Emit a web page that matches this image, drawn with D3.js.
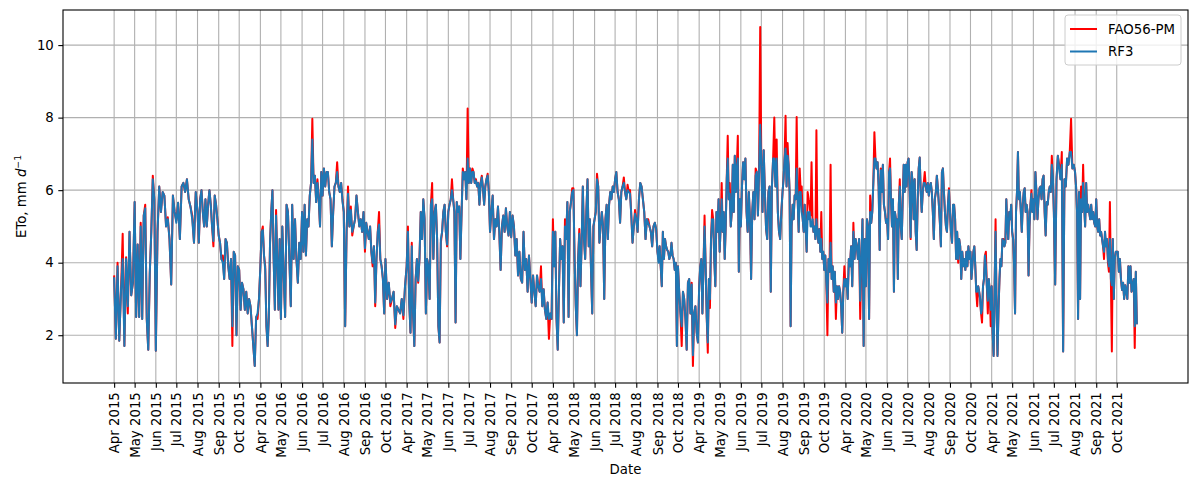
<!DOCTYPE html>
<html>
<head>
<meta charset="utf-8">
<script src="https://cdn.jsdelivr.net/npm/d3@7"></script>
<style>
  body { margin: 0; background: #ffffff; }
  svg { display: block; font-family: "DejaVu Sans", sans-serif; }
</style>
</head>
<body>
<svg id="chart" width="1189" height="481"></svg>
<script>
// Growing seasons (April to October) of daily reference evapotranspiration, mm/day.
const seasons = [2015, 2016, 2017, 2018, 2019, 2020, 2021];
const monthNames = ["Apr", "May", "Jun", "Jul", "Aug", "Sep", "Oct"];
const monthDays = [30, 31, 30, 31, 31, 30, 31];
const seriesNames = ["FAO56-PM", "RF3"];
const yTickValues = [2, 4, 6, 8, 10];

// Each season: one list per month, readings spread evenly across that month.
const fao2015 = [
  [3.65, 1.9, 4.0, 1.85, 3.2, 4.8, 1.7, 4.15, 2.6, 4.85, 3.1, 3.45],
  [5.67, 2.5, 4.5, 2.5, 5.1, 2.45, 5.3, 5.6, 2.45, 1.6, 3.7, 4.85, 6.4, 5.75],
  [1.57, 4.85, 6.1, 5.4, 5.95, 5.85, 5.0, 5.25, 4.65, 3.4, 5.85, 5.4],
  [5.15, 5.65, 4.65, 6.1, 6.2, 5.95, 6.3, 5.75, 5.55, 5.3, 4.55, 5.95],
  [5.4, 4.55, 5.75, 6.0, 5.4, 5.0, 5.75, 5.0, 5.6, 6.0, 5.6, 5.0, 4.45, 5.85, 5.6, 5.2],
  [4.75, 4.55, 4.1, 4.2, 3.55, 4.65, 4.55, 3.9, 3.55, 4.1, 1.7, 4.3, 4.2, 2.0, 3.9],
  [3.8, 2.7, 3.45, 3.27, 2.7, 3.2, 2.6, 3.0, 2.8, 2.25, 1.7, 1.15, 2.5, 2.45, 3.0]
];
const rf3_2015 = [
  [3.6, 1.9, 3.9, 1.85, 3.2, 4.1, 1.7, 4.1, 2.8, 4.85, 3.1, 3.45],
  [5.67, 2.5, 4.5, 2.5, 5.0, 2.45, 5.3, 5.5, 2.45, 1.6, 3.7, 4.85, 6.3, 5.75],
  [1.57, 4.85, 6.1, 5.4, 5.95, 5.85, 5.0, 5.2, 4.65, 3.4, 5.85, 5.4],
  [5.1, 5.65, 4.65, 6.1, 6.2, 5.95, 6.3, 5.75, 5.55, 5.2, 4.55, 5.95],
  [5.4, 4.55, 5.75, 6.0, 5.4, 5.0, 5.75, 5.0, 5.6, 6.0, 5.6, 5.0, 4.6, 5.85, 5.6, 5.2],
  [4.75, 4.55, 4.1, 4.0, 3.55, 4.65, 4.55, 3.9, 3.55, 4.1, 2.25, 4.3, 4.2, 2.0, 3.9],
  [3.8, 2.7, 3.45, 3.27, 2.7, 3.2, 2.6, 3.0, 2.8, 2.25, 1.7, 1.15, 2.5, 2.6, 3.0]
];

const fao2016 = [
  [3.9, 4.85, 5.0, 4.2, 3.9, 2.25, 1.7, 2.5, 4.55, 5.4, 6.0, 4.1, 2.7, 5.45, 4.1, 2.7, 4.65],
  [2.45, 5.0, 3.65, 2.5, 5.6, 5.4, 4.1, 2.8, 5.6, 4.1, 5.2, 4.1, 3.45, 4.55, 4.1],
  [5.4, 4.3, 5.6, 4.2, 5.2, 5.0, 5.85, 6.2, 7.97, 6.2, 6.4, 5.67, 6.3, 5.75, 5.0, 6.5],
  [5.85, 6.6, 6.1, 6.5, 6.5, 5.95, 5.75, 4.45, 5.4, 6.1, 6.2, 6.77, 6.1, 5.95, 6.2, 5.75],
  [5.4, 2.25, 4.85, 6.1, 5.0, 5.55, 4.75, 5.0, 5.2, 5.85, 5.4, 5.0, 5.2, 4.85, 5.4],
  [4.3, 5.1, 4.85, 4.65, 5.0, 4.3, 3.9, 4.45, 2.8, 4.1, 4.85, 5.4, 4.1, 3.9, 3.55, 2.6],
  [4.1, 3.0, 3.45, 2.8, 3.0, 3.2, 2.2, 2.8, 2.7, 2.6, 3.0, 2.45, 3.35]
];
const rf3_2016 = [
  [3.9, 4.85, 4.9, 4.2, 3.8, 2.25, 1.7, 2.5, 4.55, 5.4, 6.0, 4.1, 2.7, 5.3, 4.1, 2.7, 4.65],
  [2.45, 5.0, 3.65, 2.5, 5.6, 5.4, 4.1, 2.8, 5.6, 4.1, 5.2, 4.1, 3.45, 4.55, 4.1],
  [5.4, 4.3, 5.6, 4.2, 5.2, 5.0, 5.85, 6.2, 7.4, 6.2, 6.4, 5.67, 6.2, 5.75, 5.0, 6.5],
  [5.85, 6.6, 6.1, 6.5, 6.5, 5.95, 5.75, 4.45, 5.4, 6.1, 6.2, 6.5, 6.1, 5.95, 6.2, 5.7],
  [5.4, 2.25, 4.85, 5.9, 5.0, 5.45, 4.85, 5.0, 5.2, 5.85, 5.4, 5.0, 5.2, 4.85, 5.4],
  [4.4, 5.1, 4.85, 4.65, 5.0, 4.3, 4.0, 4.45, 2.9, 4.1, 4.85, 5.05, 4.1, 3.9, 3.55, 2.6],
  [4.1, 3.0, 3.45, 2.9, 3.0, 3.2, 2.3, 2.8, 2.7, 2.6, 3.0, 2.55, 3.35]
];

const fao2017 = [
  [3.9, 5.0, 2.9, 2.07, 4.55, 2.6, 1.7, 3.55, 4.1, 3.45, 4.1, 5.4, 4.65, 5.75, 5.2, 2.6],
  [4.1, 3.9, 3.0, 5.6, 6.2, 4.1, 5.4, 5.6, 4.65, 2.25, 1.8, 4.55, 4.85, 5.4, 5.6, 4.85, 4.45],
  [5.4, 5.6, 5.75, 6.3, 5.75, 5.4, 2.35, 5.67, 5.4, 5.55, 4.1, 5.4, 6.6, 6.3, 6.5, 5.75, 8.25],
  [6.2, 6.6, 6.2, 6.6, 6.5, 6.2, 6.3, 6.1, 6.2, 5.6, 6.2, 6.4, 6.05, 5.6, 6.1, 6.3, 6.45, 5.95],
  [4.85, 5.4, 5.85, 4.65, 5.2, 5.0, 5.55, 4.85, 3.8, 5.0, 5.3, 4.85, 5.5, 5.0, 4.75, 5.4],
  [4.7, 5.3, 5.0, 4.2, 4.65, 3.65, 4.3, 3.55, 3.45, 4.85, 3.8, 4.1, 3.2, 4.2, 3.55],
  [2.9, 3.65, 3.2, 2.8, 3.65, 3.35, 3.2, 3.9, 2.8, 3.27, 2.7, 2.45, 2.9, 1.9, 2.6, 2.45]
];
const rf3_2017 = [
  [3.9, 4.85, 2.9, 2.07, 4.45, 2.6, 1.7, 3.55, 4.1, 3.5, 4.1, 5.4, 4.65, 5.75, 5.2, 2.6],
  [4.1, 3.9, 3.0, 5.6, 5.75, 4.1, 5.4, 5.6, 4.65, 2.25, 1.8, 4.65, 4.85, 5.4, 5.6, 4.85, 4.5],
  [5.4, 5.6, 5.75, 6.0, 5.75, 5.4, 2.35, 5.67, 5.4, 5.55, 4.1, 5.4, 6.5, 6.3, 6.5, 5.75, 6.87],
  [6.2, 6.6, 6.2, 6.5, 6.5, 6.2, 6.25, 6.1, 6.2, 5.6, 6.15, 6.35, 6.05, 5.6, 6.1, 6.3, 6.4, 5.95],
  [4.85, 5.4, 5.85, 4.65, 5.2, 5.0, 5.55, 4.85, 3.8, 5.0, 5.3, 4.85, 5.5, 5.0, 4.75, 5.4],
  [4.7, 5.3, 5.0, 4.2, 4.65, 3.65, 4.3, 3.55, 3.45, 4.85, 3.8, 4.1, 3.2, 4.2, 3.55],
  [2.9, 3.65, 3.2, 2.8, 3.65, 3.35, 3.2, 3.55, 2.8, 3.27, 2.7, 2.45, 2.9, 2.45, 2.6, 2.45]
];

const fao2018 = [
  [5.2, 3.9, 4.85, 2.45, 1.6, 3.2, 4.65, 4.1, 4.45, 2.35, 5.2, 4.65, 5.67, 2.5, 5.4, 5.67, 6.05],
  [6.05, 4.1, 2.8, 2.0, 4.1, 4.93, 3.35, 4.55, 6.1, 4.65, 4.1, 5.4, 6.3, 4.45, 5.2, 3.75, 2.6, 5.0],
  [5.2, 5.4, 6.45, 6.1, 4.55, 5.0, 5.4, 5.0, 3.0, 5.2, 5.6, 4.65, 5.6, 5.95, 5.75, 6.1, 5.95],
  [6.3, 6.5, 5.95, 5.75, 5.1, 5.95, 6.1, 6.35, 5.95, 5.75, 6.15, 5.95, 6.0, 5.3, 4.55, 5.0, 5.45],
  [5.2, 4.85, 5.75, 6.2, 6.1, 5.75, 5.4, 4.65, 5.2, 5.2, 5.0, 4.85, 4.45, 5.0, 5.1, 4.93],
  [4.3, 4.1, 4.45, 3.9, 3.35, 4.85, 4.1, 4.65, 4.45, 4.35, 4.3, 4.1, 4.2, 4.55, 4.2, 4.1, 3.8, 4.0, 1.7],
  [3.9, 3.2, 2.6, 1.7, 3.2, 3.0, 2.45, 1.6, 3.45, 3.55, 2.6, 3.45, 1.15, 2.6, 2.8, 2.07, 1.8]
];
const rf3_2018 = [
  [4.85, 3.9, 4.85, 2.45, 1.6, 3.2, 4.65, 4.1, 4.45, 2.35, 5.0, 4.65, 5.67, 2.5, 5.4, 5.67, 5.95],
  [6.0, 4.1, 2.8, 2.0, 4.1, 4.8, 3.35, 4.55, 6.1, 4.65, 4.1, 5.4, 6.3, 4.45, 5.2, 3.75, 2.6, 5.0],
  [5.2, 5.4, 6.3, 6.1, 4.55, 5.0, 5.4, 5.0, 3.0, 5.2, 5.6, 4.65, 5.6, 5.95, 5.75, 6.1, 5.95],
  [6.3, 6.5, 5.95, 5.75, 5.1, 5.95, 6.1, 6.2, 5.95, 5.75, 6.0, 5.95, 5.9, 5.3, 4.55, 5.0, 5.35],
  [5.2, 4.85, 5.75, 6.2, 6.1, 5.75, 5.4, 4.65, 5.2, 5.1, 5.0, 4.85, 4.45, 5.0, 5.1, 4.93],
  [4.3, 4.0, 4.45, 3.9, 3.35, 4.85, 4.1, 4.65, 4.45, 4.35, 4.3, 4.1, 4.2, 4.55, 4.2, 4.1, 3.8, 4.0, 1.7],
  [3.9, 3.2, 2.6, 2.25, 3.2, 3.0, 2.45, 1.6, 3.45, 3.55, 2.6, 3.4, 1.45, 2.6, 2.8, 2.07, 1.8]
];

const fao2019 = [
  [3.35, 3.9, 4.1, 2.6, 3.9, 5.3, 3.9, 2.5, 1.52, 3.55, 2.75, 4.65, 5.45, 5.2, 4.1, 3.35, 5.4, 4.85, 5.75],
  [4.3, 5.0, 6.2, 4.85, 5.4, 4.1, 5.0, 6.3, 7.5, 5.75, 6.2, 5.0, 5.4, 6.7, 5.4, 6.95, 5.95, 6.6, 7.5, 3.75, 5.75],
  [5.0, 6.1, 6.77, 6.3, 6.87, 5.4, 4.85, 5.95, 5.2, 3.55, 5.4, 5.95, 5.2, 6.6, 6.5, 5.3, 6.5, 10.5],
  [6.7, 5.4, 7.1, 5.95, 4.93, 4.65, 5.95, 6.1, 3.2, 6.1, 6.87, 8.0, 6.1, 7.4, 5.4, 4.85, 4.65, 5.4],
  [5.95, 6.3, 6.87, 8.05, 6.1, 7.3, 6.7, 5.95, 2.25, 5.0, 5.6, 5.2, 5.85, 5.75, 8.02, 5.75, 4.85, 6.6, 5.95, 6.1, 5.2],
  [4.85, 5.6, 5.0, 4.3, 5.95, 5.75, 5.6, 5.3, 6.77, 5.2, 4.85, 5.0, 4.65, 7.65, 4.85, 4.55, 4.93, 4.3, 5.4, 4.1, 4.3],
  [3.8, 4.2, 3.45, 2.0, 4.1, 3.75, 6.7, 3.55, 3.9, 3.2, 3.75, 2.45, 3.35, 3.0, 3.35, 3.2, 2.8, 2.07, 3.2, 3.9]
];
const rf3_2019 = [
  [3.35, 3.9, 4.1, 2.6, 3.9, 5.0, 3.9, 2.5, 1.8, 3.55, 3.0, 4.65, 5.2, 5.2, 4.1, 3.35, 5.4, 4.85, 5.75],
  [4.3, 5.0, 5.75, 4.85, 5.4, 4.1, 5.0, 6.3, 6.87, 5.75, 5.9, 5.0, 5.4, 6.7, 5.4, 6.95, 5.95, 6.6, 6.87, 3.75, 5.75],
  [5.0, 6.1, 6.77, 6.3, 6.87, 5.4, 4.85, 5.95, 5.2, 3.55, 5.4, 5.95, 5.2, 6.4, 6.5, 5.3, 6.5, 7.8],
  [6.7, 5.4, 7.1, 5.95, 4.93, 4.65, 5.95, 6.1, 3.2, 6.1, 6.87, 6.87, 6.1, 6.87, 5.4, 4.85, 4.65, 5.4],
  [5.95, 6.3, 6.87, 7.15, 6.1, 6.95, 6.7, 5.95, 2.25, 5.0, 5.6, 5.2, 5.85, 5.75, 6.6, 5.75, 4.85, 5.95, 5.95, 5.4, 5.2],
  [4.85, 5.6, 5.0, 4.3, 5.4, 5.2, 5.4, 5.0, 5.0, 5.2, 4.85, 5.0, 4.65, 5.2, 4.85, 4.55, 4.93, 4.3, 4.65, 4.1, 4.3],
  [3.8, 4.2, 3.45, 2.9, 4.1, 3.75, 4.55, 3.55, 3.9, 3.2, 3.75, 2.9, 3.35, 3.0, 3.35, 3.2, 2.8, 2.07, 3.2, 3.55]
];

const fao2020 = [
  [3.35, 3.55, 3.0, 4.1, 3.9, 4.45, 3.35, 5.1, 4.1, 4.65, 4.45, 4.1, 4.65, 2.45, 4.1, 5.2, 1.7, 4.65],
  [3.35, 5.2, 5.0, 2.45, 5.85, 5.1, 5.4, 6.2, 7.6, 6.87, 6.6, 6.77, 6.1, 4.35, 6.6, 5.95, 6.7, 5.6, 5.4, 5.1],
  [5.2, 4.65, 6.5, 6.87, 5.75, 5.0, 5.75, 3.2, 5.4, 5.2, 5.2, 3.55, 5.6, 6.3, 5.0, 4.65, 5.75, 6.7, 5.95, 6.7, 6.1],
  [6.77, 6.87, 5.95, 4.65, 6.5, 6.2, 5.2, 6.3, 4.85, 4.35, 5.75, 6.6, 6.9, 5.95, 5.4, 5.95, 6.2, 6.5, 6.1, 5.95, 6.2],
  [5.85, 6.1, 6.2, 5.95, 5.4, 4.65, 5.75, 5.95, 6.4, 6.05, 5.6, 5.1, 4.45, 6.5, 6.6, 5.95, 5.4, 5.0, 4.85, 5.6, 6.05],
  [5.4, 4.85, 4.55, 5.6, 5.6, 5.2, 4.1, 4.85, 4.0, 4.65, 4.45, 3.55, 4.3, 3.9, 4.1, 3.8, 4.3, 3.9, 4.45, 4.1],
  [4.3, 3.55, 3.95, 4.3, 4.45, 3.9, 3.2, 2.8, 3.35, 3.2, 3.0, 2.6, 2.35, 3.35, 3.55, 4.2, 4.3, 3.35, 2.6, 3.55, 3.2, 2.25]
];
const rf3_2020 = [
  [3.35, 3.55, 3.0, 4.1, 3.9, 4.45, 3.35, 4.85, 4.1, 4.65, 4.45, 4.1, 4.65, 2.95, 4.1, 5.2, 1.7, 4.65],
  [3.35, 5.2, 5.0, 2.45, 5.4, 5.1, 5.4, 6.2, 6.87, 6.87, 6.6, 6.77, 6.1, 4.35, 6.55, 5.95, 6.7, 5.6, 5.4, 5.1],
  [5.2, 4.65, 6.5, 6.6, 5.75, 5.0, 5.75, 3.2, 5.4, 5.2, 5.2, 3.55, 5.6, 6.1, 5.0, 4.65, 5.75, 6.7, 5.95, 6.7, 6.1],
  [6.77, 6.87, 5.95, 4.7, 6.5, 6.2, 5.2, 6.3, 4.85, 4.35, 5.75, 6.6, 6.9, 5.95, 5.4, 5.95, 6.2, 6.2, 6.1, 5.95, 6.2],
  [5.85, 6.1, 6.2, 5.95, 5.4, 4.65, 5.75, 5.95, 6.4, 6.05, 5.6, 5.1, 4.45, 6.5, 6.6, 5.95, 5.4, 5.0, 4.85, 5.6, 6.0],
  [5.4, 4.85, 4.55, 5.6, 5.6, 5.2, 4.1, 4.85, 4.1, 4.65, 4.45, 3.55, 4.3, 3.9, 4.1, 3.8, 4.3, 3.9, 4.45, 4.1],
  [4.3, 3.55, 3.9, 4.3, 4.45, 3.9, 3.2, 3.2, 3.35, 3.2, 3.0, 2.6, 2.7, 3.35, 3.55, 4.2, 3.9, 3.35, 2.95, 3.55, 3.2, 2.7]
];

const fao2021 = [
  [3.35, 2.07, 1.43, 3.35, 5.2, 2.8, 1.43, 2.7, 3.55, 4.1, 3.9, 4.65, 4.65, 4.45, 4.55, 5.75, 5.0, 4.65, 5.4, 5.2, 5.6],
  [4.85, 4.65, 3.9, 2.6, 5.4, 5.95, 7.05, 5.75, 5.95, 5.4, 4.85, 5.6, 5.95, 6.05, 5.4, 5.6, 5.4, 3.65, 5.0, 5.6, 6.0, 5.4],
  [5.75, 5.2, 6.5, 5.95, 5.2, 5.75, 6.05, 6.1, 5.75, 6.3, 6.4, 5.4, 4.75, 5.67, 5.6, 5.95, 6.1, 5.95, 6.95, 6.4],
  [5.4, 3.4, 6.3, 6.95, 6.7, 6.3, 7.05, 1.55, 6.3, 6.1, 6.87, 6.7, 7.05, 7.97, 6.6, 6.7],
  [6.5, 6.1, 5.4, 2.45, 5.95, 3.0, 6.1, 5.4, 6.7, 5.6, 5.0, 6.2, 5.4, 5.6, 5.4, 5.2, 5.6, 5.2, 5.4, 5.1, 5.0],
  [5.75, 5.0, 4.85, 5.2, 4.75, 4.85, 4.65, 4.45, 4.1, 4.85, 4.45, 4.65, 4.0, 3.75, 5.67, 3.55, 1.55, 4.65, 3.0, 4.1, 4.3],
  [4.3, 4.3, 3.75, 4.1, 3.55, 3.25, 3.45, 3.0, 3.38, 3.2, 3.0, 3.9, 3.45, 3.9, 3.2, 3.38, 3.55, 1.65, 3.75, 2.3]
];
const rf3_2021 = [
  [3.35, 2.07, 1.43, 3.35, 4.85, 2.8, 1.43, 2.7, 3.55, 4.1, 3.9, 4.65, 4.6, 4.45, 4.55, 5.75, 5.0, 4.65, 5.4, 5.2, 5.6],
  [4.85, 4.65, 3.9, 2.6, 5.4, 5.95, 7.05, 5.75, 5.95, 5.4, 4.85, 5.6, 5.95, 6.05, 5.4, 5.6, 5.4, 3.65, 5.0, 5.6, 5.9, 5.4],
  [5.75, 5.2, 6.5, 5.95, 5.2, 5.75, 6.05, 6.1, 5.75, 6.3, 6.4, 5.4, 4.75, 5.67, 5.6, 5.95, 6.1, 5.95, 6.7, 6.4],
  [5.4, 3.4, 6.3, 6.95, 6.6, 6.3, 6.7, 1.55, 6.3, 6.1, 6.87, 6.7, 7.05, 7.05, 6.6, 6.7],
  [6.5, 6.1, 5.4, 2.45, 5.95, 3.0, 5.75, 5.4, 6.2, 5.6, 5.0, 6.2, 5.4, 5.6, 5.4, 5.2, 5.6, 5.2, 5.4, 5.1, 5.0],
  [5.75, 5.0, 4.85, 5.2, 4.75, 4.85, 4.65, 4.45, 4.3, 4.85, 4.45, 4.65, 4.1, 3.9, 4.65, 3.55, 3.38, 4.65, 3.0, 4.1, 4.3],
  [4.3, 4.3, 3.75, 4.1, 3.55, 3.25, 3.45, 3.0, 3.38, 3.2, 3.0, 3.9, 3.45, 3.9, 3.2, 3.38, 3.55, 2.25, 3.75, 2.3]
];

const faoSeasons = [fao2015, fao2016, fao2017, fao2018, fao2019, fao2020, fao2021];
const rf3Seasons = [rf3_2015, rf3_2016, rf3_2017, rf3_2018, rf3_2019, rf3_2020, rf3_2021];

// ---- layout & styling ----
const width = 1189, height = 481;
const plot = { left: 63, right: 1188, top: 10, bottom: 383 };
const colors = { "FAO56-PM": "#ff0000", "RF3": "#1f77b4" };
const fontSize = 13.3;
const tickLen = 4.7;
const gridColor = "#b0b0b0";

// Days are counted along the concatenated seasons (Apr 1 of the first season = day 0).
const monthStart = [0];
monthDays.slice(0, -1).forEach((d, i) => monthStart.push(monthStart[i] + d));
const seasonLength = d3.sum(monthDays);

function toPoints(seasonList) {
  const pts = [];
  seasonList.forEach((months, s) => {
    months.forEach((vals, m) => {
      vals.forEach((v, j) => {
        pts.push({ day: s * seasonLength + monthStart[m] + j * monthDays[m] / vals.length, value: v });
      });
    });
  });
  return pts;
}

const series = [
  { name: seriesNames[0], points: toPoints(faoSeasons) },
  { name: seriesNames[1], points: toPoints(rf3Seasons) }
];

const allPts = series.flatMap(s => s.points);
const [dMin, dMax] = d3.extent(allPts, p => p.day);
const [vMin, vMax] = d3.extent(allPts, p => p.value);
const dPad = (dMax - dMin) * 0.05, vPad = (vMax - vMin) * 0.05;

const x = d3.scaleLinear().domain([dMin - dPad, dMax + dPad]).range([plot.left, plot.right]);
const y = d3.scaleLinear().domain([vMin - vPad, vMax + vPad]).range([plot.bottom, plot.top]);

// Month ticks
const tickDays = [], tickLabels = [];
seasons.forEach((yr, s) => monthNames.forEach((mn, m) => {
  tickDays.push(s * seasonLength + monthStart[m]);
  tickLabels.push(mn + " " + yr);
}));

const svg = d3.select("#chart");
svg.append("rect").attr("width", width).attr("height", height).attr("fill", "#ffffff");

// Grid
const grid = svg.append("g");
grid.selectAll("line.vx").data(tickDays).join("line")
  .attr("x1", d => x(d)).attr("x2", d => x(d))
  .attr("y1", plot.top).attr("y2", plot.bottom)
  .attr("stroke", gridColor).attr("stroke-width", 1.1);
grid.selectAll("line.hy").data(yTickValues).join("line")
  .attr("x1", plot.left).attr("x2", plot.right)
  .attr("y1", d => y(d)).attr("y2", d => y(d))
  .attr("stroke", gridColor).attr("stroke-width", 1.1);

// Series lines
svg.append("defs").append("clipPath").attr("id", "plotClip")
  .append("rect").attr("x", plot.left).attr("y", plot.top)
  .attr("width", plot.right - plot.left).attr("height", plot.bottom - plot.top);

const line = d3.line().x(p => x(p.day)).y(p => y(p.value));
svg.append("g").attr("clip-path", "url(#plotClip)")
  .selectAll("path").data(series).join("path")
  .attr("d", s => line(s.points))
  .attr("fill", "none")
  .attr("stroke", s => colors[s.name])
  .attr("stroke-width", 2)
  .attr("stroke-linejoin", "round");

// Axes
const xAxis = d3.axisBottom(x).tickValues(tickDays)
  .tickFormat((d, i) => tickLabels[i]).tickSize(tickLen).tickPadding(4.5);
const gx = svg.append("g").attr("transform", `translate(0,${plot.bottom})`).call(xAxis);
gx.select(".domain").remove();
gx.selectAll(".tick line").attr("stroke", "#000").attr("stroke-width", 1.1);
gx.selectAll(".tick text")
  .attr("transform", "rotate(-90)")
  .attr("text-anchor", "end")
  .attr("x", -(tickLen + 4.5)).attr("y", 0).attr("dy", "0.35em")
  .attr("font-size", fontSize).attr("font-family", "DejaVu Sans").attr("fill", "#000");

const yAxis = d3.axisLeft(y).tickValues(yTickValues).tickFormat(d3.format("d"))
  .tickSize(tickLen).tickPadding(4.5);
const gy = svg.append("g").attr("transform", `translate(${plot.left},0)`).call(yAxis);
gy.select(".domain").remove();
gy.selectAll(".tick line").attr("stroke", "#000").attr("stroke-width", 1.1);
gy.selectAll(".tick text").attr("font-size", fontSize).attr("font-family", "DejaVu Sans").attr("fill", "#000");

// Frame
svg.append("rect")
  .attr("x", plot.left).attr("y", plot.top)
  .attr("width", plot.right - plot.left).attr("height", plot.bottom - plot.top)
  .attr("fill", "none").attr("stroke", "#000").attr("stroke-width", 1.1);

// Axis titles
svg.append("text")
  .attr("x", (plot.left + plot.right) / 2).attr("y", 474)
  .attr("text-anchor", "middle").attr("font-size", fontSize).attr("fill", "#000")
  .text("Date");

const yt = svg.append("text")
  .attr("transform", `translate(26,${(plot.top + plot.bottom) / 2}) rotate(-90)`)
  .attr("text-anchor", "middle").attr("font-size", fontSize).attr("fill", "#000");
yt.append("tspan").text("ETo, mm ");
yt.append("tspan").attr("font-style", "italic").text("d");
yt.append("tspan").attr("font-size", fontSize * 0.7).attr("dy", -5).text("\u22121");

// Legend
const lg = svg.append("g");
const lgBox = { x: 1065, y: 15, w: 116, h: 50 };
lg.append("rect")
  .attr("x", lgBox.x).attr("y", lgBox.y).attr("width", lgBox.w).attr("height", lgBox.h)
  .attr("rx", 3).attr("fill", "#ffffff").attr("fill-opacity", 0.8)
  .attr("stroke", "#cccccc").attr("stroke-width", 1);
const rows = lg.selectAll("g.row").data(series).join("g")
  .attr("transform", (s, i) => `translate(${lgBox.x + 5},${lgBox.y + 14 + i * 22.5})`);
rows.append("line").attr("x1", 0).attr("x2", 27).attr("y1", 0).attr("y2", 0)
  .attr("stroke", s => colors[s.name]).attr("stroke-width", 2);
rows.append("text").attr("x", 38).attr("y", 0).attr("dy", "0.35em")
  .attr("font-size", fontSize).attr("fill", "#000").text(s => s.name);
</script>
</body>
</html>
